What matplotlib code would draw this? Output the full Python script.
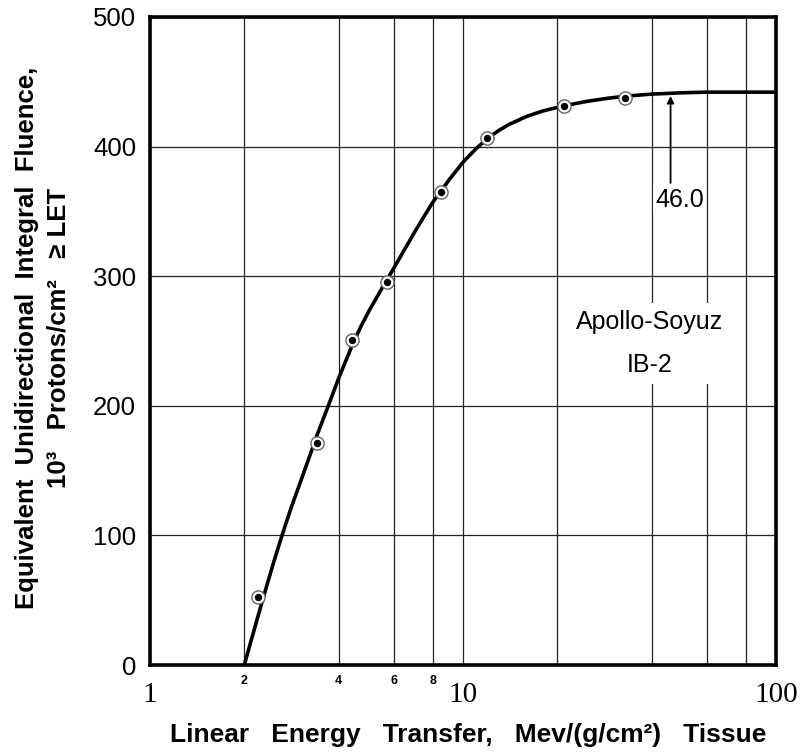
import matplotlib
matplotlib.use("Agg")
import matplotlib.pyplot as plt

# dados
pontos_let = [2.22, 3.41, 4.43, 5.71, 8.51, 11.9, 21.0, 33.0]
pontos_fluencia = [52.7, 171.5, 251.0, 295.8, 365.0, 406.5, 431.5, 437.8]

curva_let = [2.0, 2.15, 2.3, 2.47, 2.64, 2.82, 3.0, 3.2, 3.4, 3.67, 4.0, 4.43,
             4.7, 5.0, 5.5, 6.0, 6.5, 7.0, 7.5, 8.0, 9.0, 10.0, 11.0, 12.0,
             13.0, 14.0, 16.0, 18.0, 21.0, 25.0, 29.0, 33.0, 40.0, 50.0, 60.0,
             100.0]
curva_fluencia = [0, 27, 52, 77.5, 100, 121, 139, 158, 176, 197, 221, 247,
                  260.5, 273, 290.5, 306, 320.5, 334, 346, 357, 374, 388,
                  398.4, 406.4, 412.4, 417, 423.4, 427.5, 431.5, 435, 437.3,
                  438.9, 440.5, 441.5, 442, 442]

ticks_x = [1, 10, 100]
ticks_x_menores = [2, 4, 6, 8, 20, 40, 60, 80]
rotulos_menores = ["2", "4", "6", "8", "", "", "", ""]
ticks_y = [0, 100, 200, 300, 400, 500]

let_seta = 46.0
fluencia_seta = 442

fonte = ["Liberation Sans", "DejaVu Sans"]
plt.rcParams["font.family"] = fonte

fig = plt.figure(figsize=(8.11, 7.55), dpi=100)
ax = fig.add_axes([0.185, 0.1192, 0.772, 0.8583])

ax.set_xscale("log")
ax.set_xlim(1, 100)
ax.set_ylim(0, 500)

ax.set_xticks(ticks_x)
ax.set_xticklabels([str(t) for t in ticks_x], family=["Liberation Serif", "DejaVu Serif"], fontsize=21)
ax.set_xticks(ticks_x_menores, minor=True)
ax.set_xticklabels(rotulos_menores, minor=True, fontsize=9, fontweight="bold")
ax.set_yticks(ticks_y)
ax.set_yticklabels([str(t) for t in ticks_y], fontsize=18.5)

ax.tick_params(axis="x", which="major", length=0, pad=12)
ax.tick_params(axis="x", which="minor", length=0, pad=7)
ax.tick_params(axis="y", length=0, pad=10)

ax.grid(True, which="major", color="#222222", linewidth=0.9)
ax.grid(True, which="minor", axis="x", color="#222222", linewidth=0.9)
ax.set_axisbelow(True)

for s in ax.spines.values():
    s.set_linewidth(2.6)
    s.set_zorder(5)

ax.plot(curva_let, curva_fluencia, color="black", linewidth=2.6, zorder=3,
        solid_joinstyle="round")
ax.plot(pontos_let, pontos_fluencia, linestyle="none", marker="o", markersize=9.5,
        markerfacecolor="white", markeredgecolor="#666666", markeredgewidth=1.0, zorder=4)
ax.plot(pontos_let, pontos_fluencia, linestyle="none", marker="o", markersize=4.3,
        color="black", zorder=4)

ax.annotate("", xy=(let_seta, fluencia_seta - 3), xytext=(let_seta, 372),
            arrowprops=dict(arrowstyle="-|>", color="black", lw=1.3,
                            mutation_scale=10, shrinkA=0, shrinkB=0), zorder=4)
ax.text(41.0, 359, "46.0", fontsize=18, ha="left", va="center",
        bbox=dict(facecolor="white", edgecolor="none", pad=1), zorder=3)
ax.text(39.5, 248, "Apollo-Soyuz\nIB-2", fontsize=18, ha="center", va="center",
        linespacing=2.0,
        bbox=dict(facecolor="white", edgecolor="none", pad=5), zorder=3)

fig.text(468 / 811, 1 - 735 / 755,
         "Linear   Energy   Transfer,   Mev/(g/cm²)   Tissue",
         fontsize=19, fontweight="bold", ha="center", va="center")
fig.text(43 / 811, 1 - 338 / 755,
         "Equivalent  Unidirectional  Integral  Fluence,\n10³   Protons/cm²   ≥ LET",
         fontsize=18.5, fontweight="bold", rotation=90, ha="center", va="center",
         multialignment="center", linespacing=1.4)

fig.savefig("out.png", dpi=100)
